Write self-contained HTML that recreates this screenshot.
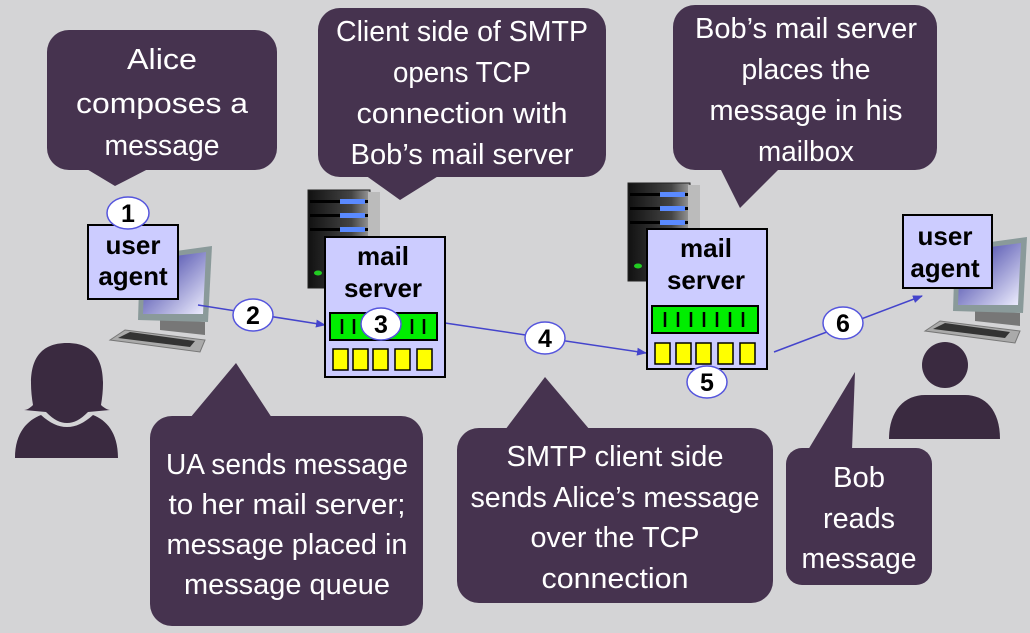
<!DOCTYPE html>
<html><head><meta charset="utf-8"><style>
html,body{margin:0;padding:0;background:#d4d4d6;}
svg{display:block}
.t{font-family:"Liberation Sans",sans-serif;font-size:29px;fill:#fff;text-anchor:middle}
.b{font-family:"Liberation Sans",sans-serif;font-size:26px;font-weight:bold;fill:#000;text-anchor:middle}
.n{font-family:"Liberation Sans",sans-serif;font-size:25px;font-weight:bold;fill:#000;text-anchor:middle}
</style></head><body>
<svg width="1030" height="633" viewBox="0 0 1030 633" xmlns="http://www.w3.org/2000/svg">
<defs>
<linearGradient id="scr" x1="0" y1="0" x2="1" y2="1"><stop offset="0" stop-color="#2a2a9a"/><stop offset="1" stop-color="#f0f0ff"/></linearGradient>
<linearGradient id="tw" x1="0" y1="0" x2="1" y2="0"><stop offset="0" stop-color="#111"/><stop offset="0.7" stop-color="#444"/><stop offset="1" stop-color="#999"/></linearGradient>
<marker id="ar" markerWidth="10" markerHeight="8" refX="9" refY="4" orient="auto" markerUnits="userSpaceOnUse"><path d="M0,0 L10,4 L0,8 z" fill="#4444cc"/></marker>
</defs>
<rect width="1030" height="633" fill="#d4d4d6"/>

<g fill="#46334f">
<rect x="47" y="30" width="230" height="140" rx="22"/><path d="M85,168 L115,186 L150,168z"/>
<rect x="318" y="8" width="288" height="169" rx="22"/><path d="M365,175 L400,200 L440,175z"/>
<rect x="673" y="5" width="264" height="165" rx="22"/><path d="M720,168 L740,208 L780,168z"/>
<rect x="150" y="416" width="273" height="210" rx="22"/><path d="M190,418 L236,363 L272,418z"/>
<rect x="457" y="428" width="316" height="175" rx="22"/><path d="M505,430 L545,377 L590,430z"/>
<rect x="786" y="448" width="146" height="137" rx="16"/><path d="M808,450 L855,372 L852,450z"/>
</g>
<g class="t">
<text x="162" y="69" textLength="70" lengthAdjust="spacingAndGlyphs">Alice</text>
<text x="162" y="113" textLength="172" lengthAdjust="spacingAndGlyphs">composes a</text>
<text x="162" y="155" textLength="115" lengthAdjust="spacingAndGlyphs">message</text>
<text x="462" y="41" textLength="252" lengthAdjust="spacingAndGlyphs">Client side of SMTP</text>
<text x="462" y="82" textLength="138" lengthAdjust="spacingAndGlyphs">opens TCP</text>
<text x="462" y="123" textLength="211" lengthAdjust="spacingAndGlyphs">connection with</text>
<text x="462" y="164" textLength="223" lengthAdjust="spacingAndGlyphs">Bob’s mail server</text>
<text x="806" y="38" textLength="222" lengthAdjust="spacingAndGlyphs">Bob’s mail server</text>
<text x="806" y="79" textLength="129" lengthAdjust="spacingAndGlyphs">places the</text>
<text x="806" y="120" textLength="193" lengthAdjust="spacingAndGlyphs">message in his</text>
<text x="806" y="161" textLength="96" lengthAdjust="spacingAndGlyphs">mailbox</text>
<text x="287" y="474" textLength="242" lengthAdjust="spacingAndGlyphs">UA sends message</text>
<text x="287" y="514" textLength="237" lengthAdjust="spacingAndGlyphs">to her mail server;</text>
<text x="287" y="554" textLength="241" lengthAdjust="spacingAndGlyphs">message placed in</text>
<text x="287" y="594" textLength="206" lengthAdjust="spacingAndGlyphs">message queue</text>
<text x="615" y="466" textLength="217" lengthAdjust="spacingAndGlyphs">SMTP client side</text>
<text x="615" y="507" textLength="289" lengthAdjust="spacingAndGlyphs">sends Alice’s message</text>
<text x="615" y="547" textLength="169" lengthAdjust="spacingAndGlyphs">over the TCP</text>
<text x="615" y="588" textLength="147" lengthAdjust="spacingAndGlyphs">connection</text>
<text x="859" y="487" textLength="52" lengthAdjust="spacingAndGlyphs">Bob</text>
<text x="859" y="528" textLength="72" lengthAdjust="spacingAndGlyphs">reads</text>
<text x="859" y="568" textLength="115" lengthAdjust="spacingAndGlyphs">message</text>
</g>

<g fill="#3a2a40">
<path d="M33,405 C28,375 30,343 67,343 C104,343 106,375 101,405 C104,408 108,410 110,410 L88,412 C80,420 74,423 67,423 C60,423 54,420 46,412 L24,410 C27,410 30,408 33,405z"/>
<path d="M15,458 C15,432 28,420 41,415 C50,423 58,427 67,427 C76,427 84,423 93,415 C106,420 118,432 118,458z"/>
<circle cx="945" cy="365" r="23"/>
<path d="M889,439 C889,410 905,395 925,395 L965,395 C985,395 1000,410 1000,439z"/>
</g>

<g id="pc1">
<path d="M110,340 L125,330 L205,340 L200,352 z" fill="#aaa" stroke="#777"/>
<path d="M118,338 L130,332 L195,341 L190,347z" fill="#333"/>
<path d="M160,318 L205,322 L205,335 L160,330z" fill="#777"/>
<path d="M140,256 L212,246 L208,322 L138,320z" fill="#8a9a9a"/>
<path d="M145,260 L206,252 L203,314 L143,314z" fill="url(#scr)"/>
</g>
<use href="#pc1" x="815" y="-9"/>

<g>
<rect x="308" y="190" width="62" height="98" fill="url(#tw)" stroke="#222"/>
<rect x="368" y="192" width="12" height="90" fill="#bbb"/>
<rect x="310" y="200" width="58" height="3" fill="#000"/><rect x="340" y="199" width="25" height="5" fill="#5a8aff"/>
<rect x="310" y="214" width="58" height="3" fill="#000"/><rect x="340" y="213" width="25" height="5" fill="#5a8aff"/>
<rect x="310" y="228" width="58" height="3" fill="#000"/><rect x="340" y="227" width="25" height="5" fill="#5a8aff"/>
<ellipse cx="318" cy="273" rx="4" ry="2.5" fill="#2c2"/>
</g>
<g transform="translate(320,-7)">
<rect x="308" y="190" width="62" height="98" fill="url(#tw)" stroke="#222"/>
<rect x="368" y="192" width="12" height="90" fill="#bbb"/>
<rect x="310" y="200" width="58" height="3" fill="#000"/><rect x="340" y="199" width="25" height="5" fill="#5a8aff"/>
<rect x="310" y="214" width="58" height="3" fill="#000"/><rect x="340" y="213" width="25" height="5" fill="#5a8aff"/>
<rect x="310" y="228" width="58" height="3" fill="#000"/><rect x="340" y="227" width="25" height="5" fill="#5a8aff"/>
<ellipse cx="318" cy="273" rx="4" ry="2.5" fill="#2c2"/>
</g>

<g stroke="#4444cc" stroke-width="1.5" fill="none">
<line x1="198" y1="305" x2="325" y2="325" marker-end="url(#ar)"/>
<line x1="445" y1="323" x2="646" y2="353" marker-end="url(#ar)"/>
<line x1="774" y1="352" x2="922" y2="296" marker-end="url(#ar)"/>
</g>

<g stroke="#000" stroke-width="2">
<rect x="325" y="237" width="120" height="140" fill="#ccccff"/>
<rect x="330" y="313" width="107" height="27" fill="#00ee00"/>
<g fill="#ffff00" stroke-width="1.5">
<rect x="333" y="349" width="15" height="21"/><rect x="353" y="349" width="15" height="21"/><rect x="373" y="349" width="15" height="21"/><rect x="395" y="349" width="15" height="21"/><rect x="417" y="349" width="15" height="21"/>
</g>
<g stroke-width="2.5"><line x1="342" y1="319" x2="342" y2="334"/><line x1="354" y1="319" x2="354" y2="334"/><line x1="412" y1="319" x2="412" y2="334"/><line x1="424" y1="319" x2="424" y2="334"/></g>
<rect x="647" y="229" width="120" height="140" fill="#ccccff"/>
<rect x="652" y="306" width="106" height="27" fill="#00ee00"/>
<g fill="#ffff00" stroke-width="1.5">
<rect x="655" y="343" width="15" height="21"/><rect x="676" y="343" width="15" height="21"/><rect x="696" y="343" width="15" height="21"/><rect x="718" y="343" width="15" height="21"/><rect x="740" y="343" width="15" height="21"/>
</g>
<g stroke-width="2.5"><line x1="665" y1="312" x2="665" y2="327"/><line x1="678" y1="312" x2="678" y2="327"/><line x1="691" y1="312" x2="691" y2="327"/><line x1="704" y1="312" x2="704" y2="327"/><line x1="717" y1="312" x2="717" y2="327"/><line x1="730" y1="312" x2="730" y2="327"/><line x1="743" y1="312" x2="743" y2="327"/></g>
<rect x="88" y="225" width="90" height="74" fill="#ccccff"/>
<rect x="903" y="215" width="89" height="73" fill="#ccccff"/>
</g>
<text class="b" x="383" y="265">mail</text><text class="b" x="383" y="297">server</text>
<text class="b" x="706" y="257">mail</text><text class="b" x="706" y="289">server</text>
<text class="b" x="133" y="254">user</text><text class="b" x="133" y="285">agent</text>
<text class="b" x="945" y="245">user</text><text class="b" x="945" y="277">agent</text>

<g fill="#fff" stroke="#5555dd" stroke-width="1.5">
<ellipse cx="128" cy="213" rx="21" ry="16"/>
<ellipse cx="253" cy="315" rx="20" ry="16"/>
<ellipse cx="381" cy="324" rx="20" ry="16"/>
<ellipse cx="545" cy="338" rx="20" ry="16"/>
<ellipse cx="707" cy="382" rx="20" ry="16"/>
<ellipse cx="843" cy="323" rx="20" ry="16"/>
</g>
<text class="n" x="128" y="222">1</text>
<text class="n" x="253" y="324">2</text>
<text class="n" x="381" y="333">3</text>
<text class="n" x="545" y="347">4</text>
<text class="n" x="707" y="391">5</text>
<text class="n" x="843" y="332">6</text>
</svg>
</body></html>
